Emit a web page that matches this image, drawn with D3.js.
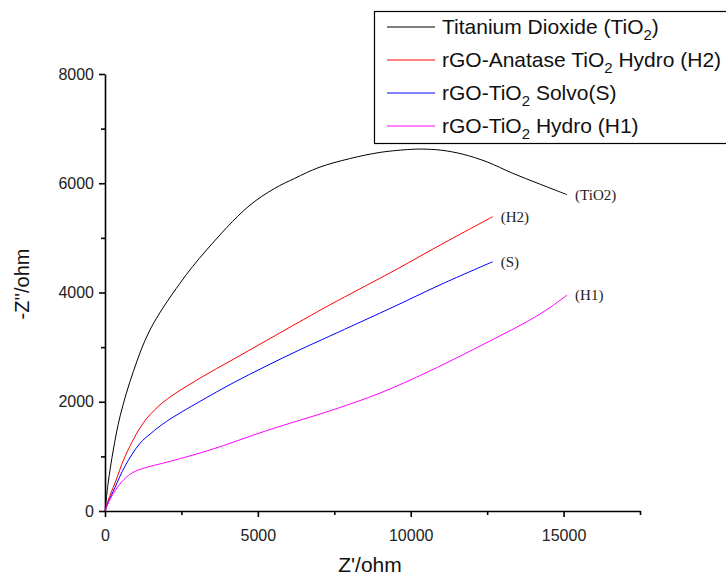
<!DOCTYPE html>
<html>
<head>
<meta charset="utf-8">
<script src="https://cdn.jsdelivr.net/npm/d3@7"></script>
<style>
    body { margin: 0; background: #fff; }
    svg { display: block; }
</style>
</head>
<body>
<div id="chart"></div>
<script>
// series data (Z' in ohm, -Z'' in ohm)
var tio2X = [0, 100, 271, 500, 925, 1469, 2449, 3320, 4679, 5550, 6203, 7000, 8000, 9000, 10000, 10400, 11000, 11690, 12500, 13320, 14200, 15116];
var tio2Y = [0, 500, 1116, 1750, 2550, 3313, 4167, 4777, 5570, 5906, 6089, 6290, 6450, 6565, 6620, 6625, 6605, 6534, 6390, 6186, 5990, 5790];

var h2X = [0, 108, 326, 653, 1143, 1500, 2013, 3101, 4190, 5279, 6366, 7345, 9523, 11000, 12680];
var h2Y = [0, 201, 512, 994, 1520, 1780, 2040, 2430, 2775, 3120, 3465, 3770, 4420, 4880, 5387];

var sX = [0, 108, 326, 653, 1143, 1500, 2013, 3101, 4190, 5279, 6366, 7345, 9523, 11000, 12680];
var sY = [0, 160, 430, 820, 1239, 1420, 1640, 2005, 2345, 2655, 2950, 3200, 3760, 4150, 4563];

var h1X = [0, 150, 400, 700, 1000, 1500, 2000, 3428, 5279, 7500, 9000, 10611, 12790, 13876, 14530, 15116];
var h1Y = [0, 200, 430, 620, 730, 820, 890, 1116, 1470, 1860, 2160, 2560, 3170, 3490, 3715, 3953];

var xTicks = [0, 5000, 10000, 15000];
var yTicks = [0, 2000, 4000, 6000, 8000];

var seriesNames = ["Titanium Dioxide (TiO|2|)", "rGO-Anatase TiO|2| Hydro (H2)", "rGO-TiO|2| Solvo(S)", "rGO-TiO|2| Hydro (H1)"];
var endLabels = ["(TiO2)", "(H2)", "(S)", "(H1)"];
var colors = ["#000000", "#ff0000", "#0000ff", "#ff00ff"];

var w = 726;
var h = 575;

var svg = d3.select("#chart").append("svg")
    .attr("width", w)
    .attr("height", h);

var x = d3.scaleLinear().domain([0, 17500]).range([105, 640]);
var y = d3.scaleLinear().domain([0, 8000]).range([511, 74]);

var series = [
    { xs: tio2X, ys: tio2Y },
    { xs: h2X, ys: h2Y },
    { xs: sX, ys: sY },
    { xs: h1X, ys: h1Y }
];

// axes
var xAxis = svg.append("g")
    .attr("transform", "translate(0," + y(0) + ")")
    .call(d3.axisBottom(x).tickValues(d3.range(0, 17501, 2500)).tickSize(6).tickSizeOuter(0)
        .tickFormat(function (d) { return xTicks.indexOf(d) >= 0 ? d : ""; }));

var yAxis = svg.append("g")
    .attr("transform", "translate(" + x(0) + ",0)")
    .call(d3.axisLeft(y).tickValues(d3.range(0, 8001, 1000)).tickSize(6).tickSizeOuter(0)
        .tickFormat(function (d) { return yTicks.indexOf(d) >= 0 ? d : ""; }));

[xAxis, yAxis].forEach(function (a) {
    a.select(".domain").attr("stroke", "#000").attr("stroke-width", 1.6);
    a.selectAll(".tick line").attr("stroke", "#000").attr("stroke-width", 1.6);
    a.selectAll(".tick text")
        .attr("font-family", "'Liberation Sans', Arial, sans-serif")
        .attr("font-size", 16)
        .attr("fill", "#222");
});
// minor ticks are shorter
xAxis.selectAll(".tick").filter(function (d) { return xTicks.indexOf(d) < 0; })
    .select("line").attr("y2", 4);
yAxis.selectAll(".tick").filter(function (d) { return yTicks.indexOf(d) < 0; })
    .select("line").attr("x2", -4);
xAxis.selectAll(".tick text").attr("dy", "1.3em");
yAxis.selectAll(".tick text").attr("x", -11);

// axis titles
svg.append("text")
    .attr("x", 370)
    .attr("y", 572)
    .attr("text-anchor", "middle")
    .attr("font-family", "'Liberation Sans', Arial, sans-serif")
    .attr("font-size", 21)
    .attr("fill", "#111")
    .text("Z'/ohm");

svg.append("text")
    .attr("transform", "translate(29,284) rotate(-90)")
    .attr("text-anchor", "middle")
    .attr("font-family", "'Liberation Sans', Arial, sans-serif")
    .attr("font-size", 20)
    .attr("fill", "#111")
    .text("-Z''/ohm");

// curves
var line = d3.line()
    .x(function (d) { return x(d[0]); })
    .y(function (d) { return y(d[1]); })
    .curve(d3.curveCatmullRom.alpha(0.5));

series.forEach(function (s, i) {
    var pts = s.xs.map(function (v, j) { return [v, s.ys[j]]; });
    svg.append("path")
        .datum(pts)
        .attr("d", line)
        .attr("fill", "none")
        .attr("stroke", colors[i])
        .attr("stroke-width", 1);

    var last = pts[pts.length - 1];
    svg.append("text")
        .attr("x", x(last[0]) + 8)
        .attr("y", y(last[1]) + 5)
        .attr("font-family", "'Liberation Serif', 'Times New Roman', serif")
        .attr("font-size", 15)
        .attr("fill", "#222")
        .text(endLabels[i]);
});

// legend
var legend = svg.append("g");
legend.append("rect")
    .attr("x", 374.5)
    .attr("y", 11.5)
    .attr("width", 380)
    .attr("height", 132)
    .attr("fill", "#fff")
    .attr("stroke", "#000")
    .attr("stroke-width", 1.2);

seriesNames.forEach(function (name, i) {
    var cy = 27 + i * 33;
    legend.append("line")
        .attr("x1", 387).attr("x2", 435)
        .attr("y1", cy).attr("y2", cy)
        .attr("stroke", colors[i])
        .attr("stroke-width", 1);
    var t = legend.append("text")
        .attr("x", 442)
        .attr("y", cy + 7)
        .attr("font-family", "'Liberation Sans', Arial, sans-serif")
        .attr("font-size", 21)
        .attr("fill", "#111");
    // pieces between | are subscripts
    name.split("|").forEach(function (part, k) {
        if (k % 2 === 1) {
            t.append("tspan").attr("dy", 6).attr("font-size", 15).text(part);
        } else {
            t.append("tspan").attr("dy", k > 0 ? -6 : 0).text(part);
        }
    });
});
</script>
</body>
</html>
